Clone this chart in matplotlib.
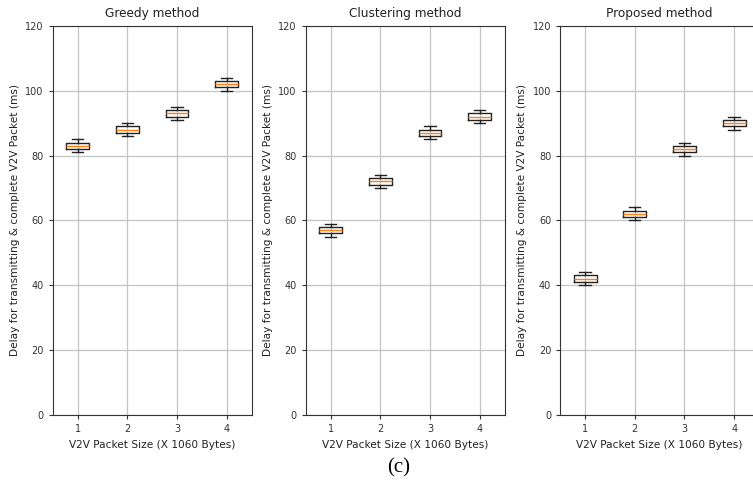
import matplotlib.pyplot as plt

# packet sizes (x 1060 bytes)
sizes = [1, 2, 3, 4]

# median delay (ms) per method
greedy = [83, 88, 93, 102]
clustering = [57, 72, 87, 92]
proposed = [42, 62, 82, 90]

# spread around the median: box half-height and whisker reach (ms)
box_half = 1
whisker_half = 2

titles = ["Greedy method", "Clustering method", "Proposed method"]
lefts = [0.070, 0.406, 0.744]


def box_stats(medians):
    stats = []
    for m in medians:
        stats.append({
            "med": m,
            "q1": m - box_half,
            "q3": m + box_half,
            "whislo": m - whisker_half,
            "whishi": m + whisker_half,
            "fliers": [],
        })
    return stats


fig = plt.figure(figsize=(7.53, 4.87), dpi=100)

for i, data in enumerate([greedy, clustering, proposed]):
    ax = fig.add_axes([lefts[i], 0.148, 0.264, 0.799])
    ax.bxp(box_stats(data), positions=sizes, widths=0.46,
           medianprops={"color": "#ff7f0e", "linewidth": 1.0},
           boxprops={"linewidth": 1.0, "color": "#222222"},
           whiskerprops={"linewidth": 1.0, "color": "#222222"},
           capprops={"linewidth": 1.0, "color": "#222222"})
    ax.set_xlim(0.5, 4.5)
    ax.set_ylim(0, 120)
    ax.set_xticks(sizes)
    ax.set_yticks([0, 20, 40, 60, 80, 100, 120])
    ax.grid(True, color="#c4c4c4", linewidth=0.9)
    ax.set_axisbelow(True)
    ax.tick_params(labelsize=7, length=3, colors="#333333")
    ax.set_title(titles[i], fontsize=8.7, color="#222222")
    ax.set_xlabel("V2V Packet Size (X 1060 Bytes)", fontsize=7.6, color="#222222")
    ax.set_ylabel("Delay for transmitting & complete V2V Packet (ms)", fontsize=7.6,
                  color="#222222")
    for s in ax.spines.values():
        s.set_color("#333333")

fig.text(0.529, 0.03, "(c)", fontsize=15, family="Liberation Serif", ha="center")

fig.savefig("out.png", dpi=100)
